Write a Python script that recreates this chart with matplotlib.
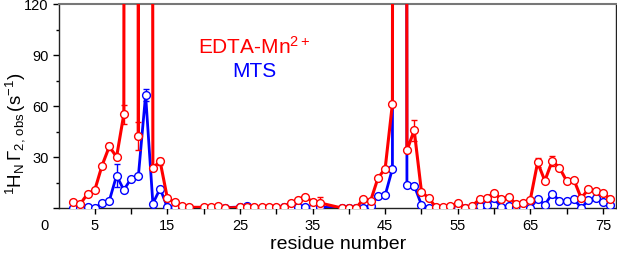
import matplotlib
matplotlib.use('Agg')
import matplotlib.pyplot as plt

# ---------------- data ----------------
residues = [2, 3, 4, 5, 6, 7, 8, 9, 10, 11, 12, 13, 14, 15, 16, 17, 18,
            20, 21, 22, 23, 25, 26, 27, 28, 29, 30, 31, 32, 33, 34, 35, 36,
            39, 40, 41, 42, 43, 44, 45, 46, 47, 48, 49, 50, 51, 52, 53, 54,
            55, 56, 57, 58, 59, 60, 61, 62, 63, 64, 65, 66, 67, 68, 69, 70,
            71, 72, 73, 74, 75, 76]

# off-scale values (far above the 120 s^-1 axis limit) are given as 5000
edta_mn = [3.4, 2.4, 8.3, 10.6, 25.0, 36.2, 30.0, 55.2, 5000, 42.3, 5000, 23.6, 27.4, 5.7, 3.4, 1.0, 0.4,
           0.4, 0.8, 1.4, 0.0, 0.4, 0.4, 0.4, 0.4, 0.4, 0.4, 0.6, 2.8, 5.0, 6.7, 3.6, 3.0,
           0.0, 0.0, 0.0, 5.3, 4.3, 17.5, 23.2, 61.3, 5000, 33.9, 45.7, 9.6, 5.8, 0.4, 0.4, 1.0,
           3.2, 0.0, 1.2, 5.2, 6.0, 8.8, 5.3, 6.3, 2.6, 2.8, 5.0, 26.8, 16.0, 27.6, 23.8, 15.9,
           16.6, 5.8, 11.0, 9.8, 8.6, 5.4]

mts = [0.0, 0.0, 0.4, 0.0, 2.8, 4.3, 19.1, 10.6, 17.3, 18.7, 66.6, 2.6, 11.4, 0.4, 0.4, 0.2, 0.2,
       0.2, 0.2, 0.0, 0.2, 0.6, 1.0, 0.2, 0.2, 0.2, 0.2, 0.4, 0.4, 0.4, 0.4, 0.4, 0.5,
       0.0, 0.0, 0.0, 0.2, 1.4, 6.9, 7.5, 23.1, 5000, 13.6, 13.2, 1.9, 0.0, 0.0, 0.0, 0.0,
       0.0, 0.0, 0.0, 1.2, 1.6, 5.8, 0.4, 1.0, 0.3, 0.0, 0.0, 5.5, 1.8, 8.5, 4.3, 3.9,
       5.5, 0.0, 4.5, 5.8, 3.4, 1.6]

# error estimates (only where visible)
edta_err = {7: 2.0, 9: 5.5, 11: 8.0, 14: 2.0, 36: 3.5, 49: 6.0, 66: 2.5, 68: 3.0}
mts_err = {8: 6.5, 12: 3.5}

x_ticks = list(range(5, 80, 5))
x_tick_labels = [str(t) if t % 10 == 5 else '' for t in x_ticks]
y_ticks = [0, 30, 60, 90, 120]
y_tick_labels = ['', '30', '60', '90', '120']
y_minor = [15, 45, 75, 105]

# ---------------- style ----------------
plt.rcParams['font.family'] = ['Liberation Sans', 'DejaVu Sans']
plt.rcParams['mathtext.fontset'] = 'custom'
plt.rcParams['mathtext.rm'] = 'Liberation Sans'
plt.rcParams['mathtext.it'] = 'Liberation Sans:italic'
plt.rcParams['mathtext.default'] = 'regular'

W, H = 617, 255
fig = plt.figure(figsize=(W / 100, H / 100), dpi=100)
L, R, T, B = 58.5, 616, 5, 209
ax = fig.add_axes([L / W, 1 - B / H, (R - L) / W, (B - T) / H])

RED = '#ff0000'
BLUE = '#0000ff'

# blue series
ax.plot(residues, mts, color=BLUE, lw=2.0, marker='o', ms=5.6, mfc='white',
        mec=BLUE, mew=1.0, zorder=3, clip_on=True)
bx = [r for r in residues if r in mts_err]
by = [mts[residues.index(r)] for r in bx]
be = [mts_err[r] for r in bx]
ax.errorbar(bx, by, yerr=be, fmt='none', ecolor=BLUE, elinewidth=1.0,
            capsize=2, capthick=1.0, zorder=2.5)

# red series
ax.plot(residues, edta_mn, color=RED, lw=2.2, marker='o', ms=5.6, mfc='white',
        mec=RED, mew=1.0, zorder=5, clip_on=True)
rx = [r for r in residues if r in edta_err]
ry = [edta_mn[residues.index(r)] for r in rx]
re_ = [edta_err[r] for r in rx]
ax.errorbar(rx, ry, yerr=re_, fmt='none', ecolor=RED, elinewidth=1.0,
            capsize=2, capthick=1.0, zorder=4.5)

ax.set_xlim(0, 76.8)
ax.set_ylim(0, 120)
ax.set_xticks(x_ticks)
ax.set_xticklabels(x_tick_labels)
ax.set_yticks(y_ticks)
ax.set_yticklabels(y_tick_labels)
ax.set_yticks(y_minor, minor=True)
ax.tick_params(axis='both', which='major', direction='out', length=4, width=1,
               labelsize=10.5, pad=3)
ax.tick_params(axis='y', which='minor', direction='out', length=2.5, width=1)

for side in ['left', 'bottom', 'right']:
    ax.spines[side].set_color('#222222')
    ax.spines[side].set_linewidth(1.0)
ax.spines['top'].set_color('#777777')
ax.spines['top'].set_linewidth(1.5)

# shared origin label
ax.annotate('0', xy=(0, 0), xycoords='axes fraction', xytext=(-10, -7),
            textcoords='offset points', ha='center', va='top', fontsize=10.5)

# axis labels
ax.text(0.501, -0.172, 'residue number', transform=ax.transAxes,
        ha='center', va='center', fontsize=14)
ax.text(-0.078, 0.37,
        r'$^{1}$H$_{\mathrm{N}}\,\Gamma_{\mathrm{2,\,obs}}\,$(s$^{-1}$)',
        transform=ax.transAxes, rotation=90, ha='center', va='center',
        fontsize=13.5)

# legend text
ax.text(0.351, 0.796, r'EDTA-Mn$^{2+}$', color=RED, transform=ax.transAxes,
        ha='center', va='center', fontsize=15)
ax.text(0.351, 0.673, 'MTS', color=BLUE, transform=ax.transAxes,
        ha='center', va='center', fontsize=15)

fig.savefig('out.png', dpi=100)
